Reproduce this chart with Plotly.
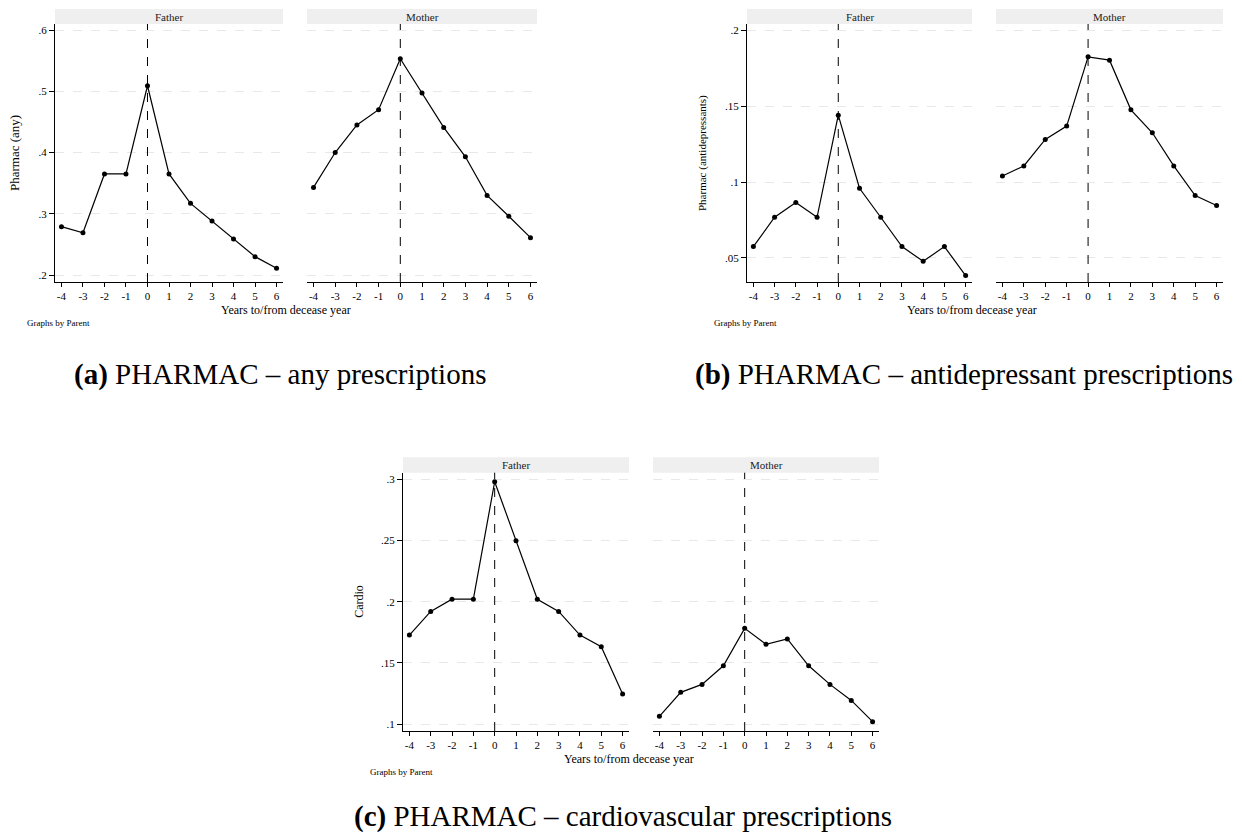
import plotly.graph_objects as go

# ---------------- data ----------------
years = [-4, -3, -2, -1, 0, 1, 2, 3, 4, 5, 6]
parents = ["Father", "Mother"]

any_father = [0.279, 0.269, 0.365, 0.365, 0.509, 0.365, 0.317, 0.288, 0.259, 0.230, 0.211]
any_mother = [0.343, 0.400, 0.445, 0.470, 0.553, 0.497, 0.441, 0.393, 0.330, 0.296, 0.261]

ad_father = [0.0575, 0.0768, 0.0865, 0.0768, 0.144, 0.0959, 0.0768, 0.0575, 0.0478, 0.0575, 0.0384]
ad_mother = [0.104, 0.1106, 0.128, 0.1368, 0.1824, 0.1802, 0.1475, 0.1324, 0.1106, 0.0911, 0.0845]

cardio_father = [0.1727, 0.192, 0.202, 0.202, 0.298, 0.2498, 0.202, 0.192, 0.1727, 0.1632, 0.1245]
cardio_mother = [0.1063, 0.1259, 0.1324, 0.1476, 0.1782, 0.1651, 0.1695, 0.1476, 0.1324, 0.1193, 0.1019]

y_titles = ["Pharmac (any)", "Pharmac (antidepressants)", "Cardio"]
y_tickvals = [[0.2, 0.3, 0.4, 0.5, 0.6], [0.05, 0.1, 0.15, 0.2], [0.1, 0.15, 0.2, 0.25, 0.3]]
y_ticktext = [[".2", ".3", ".4", ".5", ".6"], [".05", ".1", ".15", ".2"], [".1", ".15", ".2", ".25", ".3"]]
x_title = "Years to/from decease year"
note_text = "Graphs by Parent"
captions = [("(a)", "PHARMAC – any prescriptions"),
            ("(b)", "PHARMAC – antidepressant prescriptions"),
            ("(c)", "PHARMAC – cardiovascular prescriptions")]
event_year = 0

series = [(any_father, any_mother), (ad_father, ad_mother), (cardio_father, cardio_mother)]

# ---------------- geometry (screen pixels) ----------------
VW, VH = 1242, 837
OFF = 8                      # default page (body) margin of the html page
W, H = VW - OFF, VH - OFF    # figure size
geom = [
    dict(xs=[(55, 283), (307, 537)], y=(24, 282), strip=(9, 24), yrange=[0.1886, 0.6098],
         yt_x=15, yt_size=13, xt=(286, 310), note=(25, 323), cap=(72, 374)),
    dict(xs=[(747, 972), (996, 1223)], y=(24, 282), strip=(9, 24), yrange=[0.0342, 0.204],
         yt_x=703, yt_size=11, xt=(972, 310), note=(712, 323), cap=(693, 374)),
    dict(xs=[(403, 629), (653, 879)], y=(472.7, 731), strip=(457.3, 472.7), yrange=[0.0943, 0.3054],
         yt_x=359, yt_size=12, xt=(629, 759), note=(368, 772), cap=(352, 816)),
]
xrange_ = [-4.3, 6.3]

FONT = "Liberation Serif"
fig = go.Figure()
layout = {}
shapes = []
annotations = []


def px_x(v):
    return (v - OFF) / W


def px_y(v):
    return 1 - (v - OFF) / H


k = 0
for i, g in enumerate(geom):
    for j, parent in enumerate(parents):
        k += 1
        sfx = "" if k == 1 else str(k)
        xa, ya = "x" + sfx, "y" + sfx
        x0, x1 = g["xs"][j]
        fig.add_trace(go.Scatter(
            x=years, y=series[i][j], mode="lines+markers",
            line=dict(color="black", width=1.2),
            marker=dict(color="black", size=5),
            xaxis=xa, yaxis=ya, showlegend=False, name=parent))
        layout["xaxis" + sfx] = dict(
            domain=[px_x(x0), px_x(x1)], range=xrange_, anchor=ya,
            tickmode="array", tickvals=years, ticktext=[str(v) for v in years],
            ticks="outside", ticklen=4, tickcolor="black", showline=True,
            linecolor="black", linewidth=1, showgrid=False, zeroline=False,
            tickfont=dict(family=FONT, size=11, color="black"), fixedrange=True)
        left = (j == 0)
        layout["yaxis" + sfx] = dict(
            domain=[px_y(g["y"][1]), px_y(g["y"][0])], range=g["yrange"], anchor=xa,
            tickmode="array", tickvals=y_tickvals[i], ticktext=y_ticktext[i],
            ticks="outside" if left else "", ticklen=5, tickcolor="black",
            showticklabels=left, showline=left, linecolor="black", linewidth=1,
            showgrid=True, gridcolor="#e8e8e8", griddash="dash", gridwidth=1,
            zeroline=False, tickfont=dict(family=FONT, size=11, color="black"),
            fixedrange=True)
        # strip
        shapes.append(dict(type="rect", xref=xa + " domain", yref="paper",
                           x0=0, x1=1, y0=px_y(g["strip"][1]), y1=px_y(g["strip"][0]),
                           fillcolor="#efefef", line=dict(width=0), layer="below"))
        annotations.append(dict(text=parent, xref=xa + " domain", yref="paper",
                                x=0.5, y=px_y((g["strip"][0] + g["strip"][1]) / 2),
                                xanchor="center", yanchor="middle", showarrow=False,
                                font=dict(family=FONT, size=11, color="#222")))
        # vertical reference line at event year
        shapes.append(dict(type="line", xref=xa, yref=ya + " domain",
                           x0=event_year, x1=event_year, y0=0, y1=1,
                           line=dict(color="black", width=1, dash="dash")))
    # y title
    annotations.append(dict(text=y_titles[i], xref="paper", yref="paper",
                            x=px_x(g["yt_x"]), y=px_y((g["y"][0] + g["y"][1]) / 2),
                            textangle=-90, xanchor="center", yanchor="middle", showarrow=False,
                            font=dict(family=FONT, size=g["yt_size"], color="black")))
    # x title
    annotations.append(dict(text=x_title, xref="paper", yref="paper",
                            x=px_x(g["xt"][0]), y=px_y(g["xt"][1]),
                            xanchor="center", yanchor="middle", showarrow=False,
                            font=dict(family=FONT, size=12, color="black")))
    # note
    annotations.append(dict(text=note_text, xref="paper", yref="paper",
                            x=px_x(g["note"][0]), y=px_y(g["note"][1]),
                            xanchor="left", yanchor="middle", showarrow=False,
                            font=dict(family=FONT, size=9, color="black")))
    # caption
    lab, txt = captions[i]
    annotations.append(dict(text=f"<b>{lab}</b> {txt}", xref="paper", yref="paper",
                            x=px_x(g["cap"][0]), y=px_y(g["cap"][1]),
                            xanchor="left", yanchor="middle", showarrow=False,
                            font=dict(family=FONT, size=29, color="black")))

fig.update_layout(**layout)
fig.update_layout(
    width=W, height=H, margin=dict(l=0, r=0, t=0, b=0),
    paper_bgcolor="white", plot_bgcolor="white",
    shapes=shapes, annotations=annotations, showlegend=False,
    font=dict(family=FONT, color="black"))

fig.write_html("out.html")
